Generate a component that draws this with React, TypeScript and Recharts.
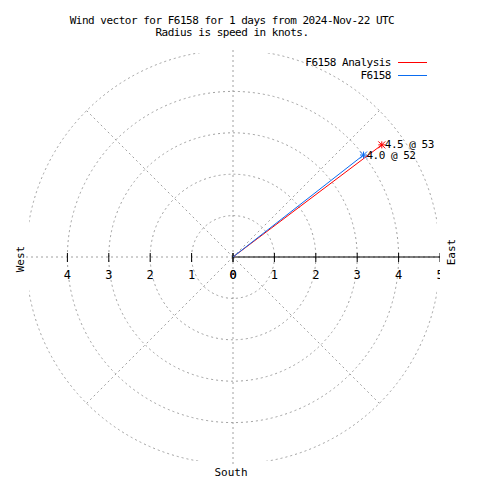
import React from 'react';
import {
  RadarChart,
  PolarGrid,
  PolarAngleAxis,
  PolarRadiusAxis,
  ComposedChart,
  XAxis,
  YAxis,
  Scatter,
  ReferenceLine,
  Legend
} from 'recharts';

// --- data ---
const seriesNames = ['F6158 Analysis', 'F6158'];
const seriesColors = ['#ff0000', '#0a6cf0'];
const speedKnots = [4.5, 4.0];
const directionDeg = [53, 52];
const compassPoints = ['N', 'NE', 'E', 'SE', 'S', 'SW', 'W', 'NW'];
const speedRings = [1, 2, 3, 4, 5];
const westTicks = [4, 3, 2, 1, 0];
const eastTicks = [0, 1, 2, 3, 4, 5];
const titleLines = [
  'Wind vector for F6158 for 1 days from 2024-Nov-22 UTC',
  'Radius is speed in knots.'
];

const FONT = '"DejaVu Sans Mono", "Liberation Mono", monospace';
const W = 480;
const H = 480;
const CX = 233;
const CY = 257;
const R = 207;
const MAX_SPEED = 5;
const MARGIN = { top: CY - R, right: W - (CX + R), bottom: H - (CY + R), left: CX - R };
const GRID = '#a0a0a0';
const DASH = '2 3';

const compassData = compassPoints.map((p) => ({ dir: p }));
// spokes every 45 degrees, rings at each knot
const spokeAngles = compassPoints.map((_, i) => 90 - (i * 360) / compassPoints.length);
const ringRadii = speedRings.map((k) => (k / MAX_SPEED) * R);

const vectors = seriesNames.map((name, i) => {
  const rad = (directionDeg[i] * Math.PI) / 180;
  return {
    name,
    color: seriesColors[i],
    data: [
      { x: 0, y: 0 },
      {
        x: speedKnots[i] * Math.sin(rad),
        y: speedKnots[i] * Math.cos(rad),
        label: `${speedKnots[i].toFixed(1)} @ ${directionDeg[i]}`
      }
    ]
  };
});

const axisTicks = [
  ...westTicks.map((t) => ({ x: -t, y: 0, label: String(t) })),
  ...eastTicks.map((t) => ({ x: t, y: 0, label: String(t) }))
];

const vectorEnd = (color: string) => (props: any) => {
  const { cx, cy, payload } = props;
  if (!payload || !payload.label) return <g />;
  const s = 3.5;
  return (
    <g>
      <path
        d={`M${cx - s},${cy}H${cx + s}M${cx},${cy - s}V${cy + s}M${cx - s},${cy - s}L${cx + s},${cy + s}M${cx - s},${cy + s}L${cx + s},${cy - s}`}
        stroke={color}
        strokeWidth={1}
        fill="none"
      />
      <text
        x={cx + 3}
        y={cy}
        dominantBaseline="central"
        fontFamily={FONT}
        fontSize={11}
        letterSpacing={-0.5}
        fill="#000"
      >
        {payload.label}
      </text>
    </g>
  );
};

const tickMark = (props: any) => {
  const { cx, cy, payload } = props;
  return (
    <g>
      <line x1={cx} y1={cy - 4} x2={cx} y2={cy + 5} stroke="#000" strokeWidth={1} />
      <text
        x={cx}
        y={cy + 22}
        textAnchor="middle"
        fontFamily={FONT}
        fontSize={12}
        fill="#000"
      >
        {payload.label}
      </text>
    </g>
  );
};

const renderLegend = (props: any) => {
  const items = (props.payload || [])
    .filter((p: any) => seriesNames.includes(p.value))
    .sort((a: any, b: any) => seriesNames.indexOf(a.value) - seriesNames.indexOf(b.value));
  return (
    <div style={{ fontFamily: FONT, fontSize: 11, letterSpacing: -0.5, color: '#000' }}>
      {items.map((entry: any) => (
        <div
          key={entry.value}
          style={{ display: 'flex', alignItems: 'center', justifyContent: 'flex-end', height: 13 }}
        >
          <span>{entry.value}</span>
          <span
            style={{
              display: 'inline-block',
              width: 29,
              height: 0,
              borderTop: `1px solid ${seriesColors[seriesNames.indexOf(entry.value)]}`,
              marginLeft: 7
            }}
          />
        </div>
      ))}
    </div>
  );
};

const PolarLayer = ({ rings, spokes, clip }: { rings: boolean; spokes: boolean; clip?: string }) => (
  <div style={{ position: 'absolute', left: 0, top: 0, clipPath: clip }}>
    <RadarChart
      width={W}
      height={H}
      data={compassData}
      cx={CX}
      cy={CY}
      innerRadius={0}
      outerRadius={R}
      margin={{ top: 0, right: 0, bottom: 0, left: 0 }}
    >
      <PolarGrid
        gridType="circle"
        cx={CX}
        cy={CY}
        innerRadius={0}
        outerRadius={R}
        radialLines={spokes}
        polarAngles={spokeAngles}
        polarRadius={rings ? ringRadii : []}
        stroke={GRID}
        strokeDasharray={DASH}
      />
      <PolarAngleAxis dataKey="dir" tick={false} axisLine={false} tickLine={false} />
      <PolarRadiusAxis
        type="number"
        domain={[0, MAX_SPEED]}
        tickCount={6}
        angle={90}
        tick={false}
        axisLine={false}
        tickLine={false}
      />
    </RadarChart>
  </div>
);

export default function App() {
  return (
    <div style={{ position: 'absolute', left: 0, top: 0, width: W, height: H, background: '#fff' }}>
      {/* title */}
      <div
        style={{
          position: 'absolute',
          left: 0,
          top: 15,
          width: 464,
          textAlign: 'center',
          fontFamily: FONT,
          fontSize: 11,
          letterSpacing: -0.5,
          lineHeight: '12px',
          whiteSpace: 'pre'
        }}
      >
        {titleLines.map((l) => (
          <div key={l}>{l}</div>
        ))}
      </div>

      {/* polar grid: compass spokes, then speed rings clipped to the plot box */}
      <PolarLayer rings={false} spokes={true} />
      <PolarLayer rings={true} spokes={false} clip="inset(53px 43px 19px 29px)" />

      {/* vectors, east axis and tick labels */}
      <div style={{ position: 'absolute', left: 0, top: 0 }}>
        <ComposedChart width={W} height={H} margin={MARGIN}>
          <XAxis type="number" dataKey="x" domain={[-MAX_SPEED, MAX_SPEED]} hide allowDataOverflow />
          <YAxis type="number" dataKey="y" domain={[-MAX_SPEED, MAX_SPEED]} hide allowDataOverflow />
          <ReferenceLine
            segment={[
              { x: 0, y: 0 },
              { x: MAX_SPEED, y: 0 }
            ]}
            stroke="#000"
            strokeWidth={1}
          />
          <Scatter
            data={axisTicks}
            shape={tickMark}
            legendType="none"
            isAnimationActive={false}
          />
          {vectors.map((v) => (
            <Scatter
              key={v.name}
              name={v.name}
              data={v.data}
              fill={v.color}
              line={{ stroke: v.color, strokeWidth: 1 }}
              lineType="joint"
              shape={vectorEnd(v.color)}
              isAnimationActive={false}
            />
          ))}
          <Legend
            layout="vertical"
            align="center"
            verticalAlign="middle"
            content={renderLegend}
            wrapperStyle={{ left: 260, top: 56, width: 167, height: 26 }}
          />
        </ComposedChart>
      </div>

      {/* compass labels */}
      <svg
        width={W}
        height={H}
        style={{ position: 'absolute', left: 0, top: 0, pointerEvents: 'none' }}
        fontFamily={FONT}
        fontSize={11}
      >
        <text x={20} y={259} textAnchor="middle" dominantBaseline="central" transform="rotate(-90 20 259)">
          West
        </text>
        <text x={451} y={252} textAnchor="middle" dominantBaseline="central" transform="rotate(-90 451 252)">
          East
        </text>
        <text x={231} y={476} textAnchor="middle">
          South
        </text>
      </svg>
    </div>
  );
}
